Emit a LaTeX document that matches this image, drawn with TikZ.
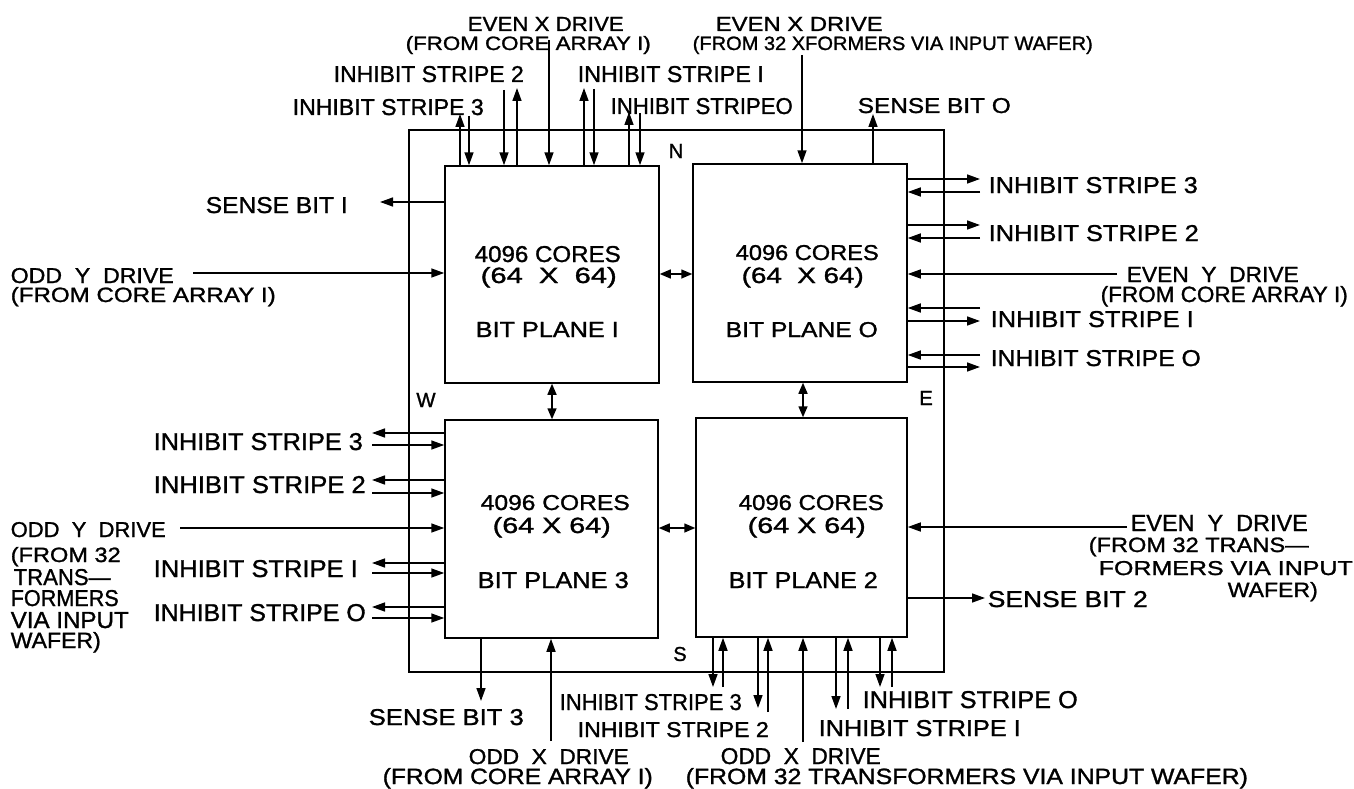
\documentclass[tikz,border=0pt]{standalone}
\usepackage{fontspec}
\setmainfont{Liberation Sans}[FakeBold=1.2]
\usepackage{graphicx}
\usetikzlibrary{arrows.meta}
\newcommand{\lb}[3]{\resizebox{#1pt}{#2pt}{#3}}
\begin{document}
\begin{tikzpicture}[x=1pt,y=-1pt,line width=1.5pt,
  ar/.style={-{Triangle[length=13pt,width=9pt]}},
  dbl/.style={{Triangle[length=11pt,width=9pt]}-{Triangle[length=11pt,width=9pt]}},
  bx/.style={draw,inner sep=0pt},
  lab/.style={anchor=base west,inner sep=0pt},
  cl/.style={anchor=center,inner sep=0pt}]
\fill[white] (0,0) rectangle (1354,789);
\useasboundingbox (0,0) rectangle (1354,789);
% frame and boxes
\node[bx,minimum width=535pt,minimum height=542pt] (frame) at (676.5,401) {};
\node[bx,minimum width=214pt,minimum height=217pt] (b1) at (552,274.5) {};
\node[bx,minimum width=214pt,minimum height=218pt] (b0) at (800,273) {};
\node[bx,minimum width=213pt,minimum height=218pt] (b3) at (551.5,529) {};
\node[bx,minimum width=211pt,minimum height=219pt] (b2) at (801.5,527.5) {};
% box texts
\node[lab] (b1a) at (474,262) {\lb{146}{16}{4096 CORES}};
\node[lab] (b1b) at (480,283) {\lb{136}{16}{(64~~X~~64)}};
\node[lab] (b1c) at (475,337) {\lb{143}{15}{BIT PLANE I}};
\node[lab] (b0a) at (735,260) {\lb{143}{15}{4096 CORES}};
\node[lab] (b0b) at (741,283) {\lb{122}{16}{(64~~X~64)}};
\node[lab] (b0c) at (725,337) {\lb{152}{15}{BIT PLANE O}};
\node[lab] (b3a) at (480,510) {\lb{149}{15}{4096 CORES}};
\node[lab] (b3b) at (492,533) {\lb{118}{16}{(64~X~64)}};
\node[lab] (b3c) at (477,588) {\lb{151}{16}{BIT PLANE 3}};
\node[lab] (b2a) at (738,510) {\lb{145}{15}{4096 CORES}};
\node[lab] (b2b) at (747,533) {\lb{118}{16}{(64~X~64)}};
\node[lab] (b2c) at (728,588) {\lb{149}{16}{BIT PLANE 2}};
% compass letters
\node[cl] (cn) at (676,151) {\resizebox{!}{14pt}{N}};
\node[cl] (cw) at (426,400) {\resizebox{!}{14pt}{W}};
\node[cl] (ce) at (926,398) {\resizebox{!}{14pt}{E}};
\node[cl] (cs) at (680,654) {\resizebox{!}{14pt}{S}};
% top labels
\node[lab] (t1) at (467,31) {\lb{156}{14}{EVEN X DRIVE}};
\node[lab] (t2) at (405,50) {\lb{245}{14}{(FROM CORE ARRAY I)}};
\node[lab] (t3) at (333,82) {\lb{190}{16}{INHIBIT STRIPE 2}};
\node[lab] (t4) at (292,115) {\lb{191}{16}{INHIBIT STRIPE 3}};
\node[lab] (t5) at (577,82) {\lb{186}{16}{INHIBIT STRIPE I}};
\node[lab] (t6) at (610,114) {\lb{182}{16}{INHIBIT STRIPEO}};
\node[lab] (t7) at (715,31) {\lb{167}{14}{EVEN X DRIVE}};
\node[lab] (t8) at (692,50) {\lb{400}{14}{(FROM 32 XFORMERS VIA INPUT WAFER)}};
\node[lab] (t9) at (857,113) {\lb{153}{15}{SENSE BIT O}};
% left top labels
\node[lab] (l1) at (205,213) {\lb{142}{16}{SENSE BIT I}};
\node[lab] (l2) at (10,283) {\lb{163}{15}{ODD~~Y~~DRIVE}};
\node[lab] (l3) at (10,302) {\lb{265}{15}{(FROM CORE ARRAY I)}};
% right top labels
\node[lab] (r1) at (988,193) {\lb{209}{16}{INHIBIT STRIPE 3}};
\node[lab] (r2) at (988,241) {\lb{210}{16}{INHIBIT STRIPE 2}};
\node[lab] (r3) at (1126,282) {\lb{172}{15}{EVEN~~Y~~DRIVE}};
\node[lab] (r4) at (1100,302) {\lb{247}{16}{(FROM CORE ARRAY I)}};
\node[lab] (r5) at (990,327) {\lb{203}{16}{INHIBIT STRIPE I}};
\node[lab] (r6) at (990,366) {\lb{210}{16}{INHIBIT STRIPE O}};
% left bottom labels
\node[lab] (l4) at (153,450) {\lb{209}{17}{INHIBIT STRIPE 3}};
\node[lab] (l5) at (153,493) {\lb{212}{17}{INHIBIT STRIPE 2}};
\node[lab] (l6) at (10,537) {\lb{155}{15}{ODD~~Y~~DRIVE}};
\node[lab] (l7) at (10,562) {\lb{110}{15}{(FROM 32}};
\node[lab] (l8) at (13,585) {\lb{97}{16}{TRANS—}};
\node[lab] (l9) at (10,606) {\lb{108}{16}{FORMERS}};
\node[lab] (l10) at (10,628) {\lb{118}{16}{VIA INPUT}};
\node[lab] (l11) at (10,648) {\lb{90}{16}{WAFER)}};
\node[lab] (l12) at (153,577) {\lb{204}{17}{INHIBIT STRIPE I}};
\node[lab] (l13) at (153,621) {\lb{212}{17}{INHIBIT STRIPE O}};
% right bottom labels
\node[lab] (r7) at (1130,531) {\lb{177}{16}{EVEN~~Y~~DRIVE}};
\node[lab] (r8) at (1088,552) {\lb{220}{15}{(FROM 32 TRANS—}};
\node[lab] (r9) at (1098,575) {\lb{254}{14}{FORMERS VIA INPUT}};
\node[lab] (r10) at (1227,597) {\lb{90}{15}{WAFER)}};
\node[lab] (r11) at (987,607) {\lb{160}{16}{SENSE BIT 2}};
% bottom labels
\node[lab] (d1) at (368,725) {\lb{155}{16}{SENSE BIT 3}};
\node[lab] (d2) at (559,710) {\lb{182}{16}{INHIBIT STRIPE 3}};
\node[lab] (d3) at (577,737) {\lb{191}{15}{INHIBIT STRIPE 2}};
\node[lab] (d4) at (468,764) {\lb{160}{15}{ODD~~X~~DRIVE}};
\node[lab] (d5) at (382,784) {\lb{270}{16}{(FROM CORE ARRAY I)}};
\node[lab] (d6) at (720,764) {\lb{160}{16}{ODD~~X~~DRIVE}};
\node[lab] (d7) at (685,784) {\lb{562}{16}{(FROM 32 TRANSFORMERS VIA INPUT WAFER)}};
\node[lab] (d8) at (818,736) {\lb{202}{16}{INHIBIT STRIPE I}};
\node[lab] (d9) at (862,708) {\lb{215}{17}{INHIBIT STRIPE O}};
% top of b1
\draw[ar] (460,0 |- b1.north) -- (460,114);
\draw[ar] (469,116) -- (469,0 |- b1.north);
\draw[ar] (504,90) -- (504,0 |- b1.north);
\draw[ar] (517,0 |- b1.north) -- (517,88);
\draw[ar] (549,40) -- (549,0 |- b1.north);
\draw[ar] (584,0 |- b1.north) -- (584,88);
\draw[ar] (594,89) -- (594,0 |- b1.north);
\draw[ar] (629,0 |- b1.north) -- (629,112);
\draw[ar] (640,113) -- (640,0 |- b1.north);
% top of b0
\draw[ar] (802,55) -- (802,0 |- b0.north);
\draw[ar] (873,0 |- b0.north) -- (873,114);
% left of b1
\draw[ar] (b1.west |- 0,202) -- (380,202);
\draw[ar] (193,273) -- (b1.west |- 0,273);
% right of b0
\draw[ar] (b0.east |- 0,179) -- (980,179);
\draw[ar] (980,192) -- (b0.east |- 0,192);
\draw[ar] (b0.east |- 0,225) -- (980,225);
\draw[ar] (980,238) -- (b0.east |- 0,238);
\draw[ar] (1117,274) -- (b0.east |- 0,274);
\draw[ar] (980,308) -- (b0.east |- 0,308);
\draw[ar] (b0.east |- 0,321) -- (980,321);
\draw[ar] (980,355) -- (b0.east |- 0,355);
\draw[ar] (b0.east |- 0,367) -- (980,367);
% left of b3
\draw[ar] (b3.west |- 0,433) -- (372,433);
\draw[ar] (372,445) -- (b3.west |- 0,445);
\draw[ar] (b3.west |- 0,480) -- (372,480);
\draw[ar] (372,493) -- (b3.west |- 0,493);
\draw[ar] (180,528) -- (b3.west |- 0,528);
\draw[ar] (b3.west |- 0,563) -- (372,563);
\draw[ar] (372,573) -- (b3.west |- 0,573);
\draw[ar] (b3.west |- 0,607) -- (372,607);
\draw[ar] (372,618) -- (b3.west |- 0,618);
% right of b2
\draw[ar] (1127,527) -- (b2.east |- 0,527);
\draw[ar] (b2.east |- 0,598) -- (985,598);
% bottom of b3
\draw[ar] (481,0 |- b3.south) -- (481,701);
\draw[ar] (551,741) -- (551,0 |- b3.south);
% bottom of b2
\draw[ar] (713,0 |- b2.south) -- (713,687);
\draw[ar] (723,687) -- (723,0 |- b2.south);
\draw[ar] (758,0 |- b2.south) -- (758,708);
\draw[ar] (768,712) -- (768,0 |- b2.south);
\draw[ar] (803,742) -- (803,0 |- b2.south);
\draw[ar] (836,0 |- b2.south) -- (836,709);
\draw[ar] (848,709) -- (848,0 |- b2.south);
\draw[ar] (880,0 |- b2.south) -- (880,687);
\draw[ar] (892,687) -- (892,0 |- b2.south);
% between planes
\draw[dbl] (b1.east |- 0,274) -- (b0.west |- 0,274);
\draw[dbl] (b3.east |- 0,528) -- (b2.west |- 0,528);
\draw[dbl] (552,0 |- b1.south) -- (552,0 |- b3.north);
\draw[dbl] (803,0 |- b0.south) -- (803,0 |- b2.north);
\end{tikzpicture}
\end{document}
